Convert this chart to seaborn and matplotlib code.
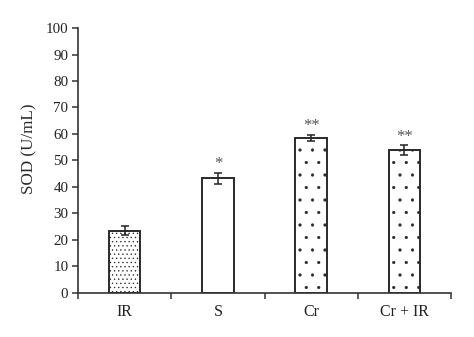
import matplotlib
matplotlib.use("Agg")
import matplotlib.pyplot as plt
import seaborn as sns
import pandas as pd

categories = ["IR", "S", "Cr", "Cr + IR"]
values = [23.4, 43.3, 58.5, 53.9]
errors = [1.7, 2.0, 1.2, 1.9]
stars = ["", "*", "**", "**"]
hatches = ["...", "", ".", "."]

DPI = 75
K = 100 / DPI  # scale so sizes look as at 100 dpi

sns.set_style("ticks")
plt.rcParams["font.family"] = ["Liberation Serif", "DejaVu Serif"]
plt.rcParams["hatch.linewidth"] = 0.6

df = pd.DataFrame({"group": categories, "sod": values})

fig = plt.figure(figsize=(474 / DPI, 337 / DPI), dpi=DPI)
ax = fig.add_axes([0.1646, 0.1306, 0.9515 - 0.1646, 0.9169 - 0.1306])

sns.barplot(data=df, x="group", y="sod", order=categories, color="white",
            edgecolor="#2a2a2a", linewidth=1.4 * K, width=0.34, errorbar=None, ax=ax)
for patch, h in zip(ax.patches, hatches):
    patch.set_hatch(h)
    patch.set_facecolor("white")

xs = list(range(len(categories)))
ax.errorbar(xs, values, yerr=errors, fmt="none", ecolor="#222222",
            elinewidth=1.1 * K, capsize=3 * K, capthick=1.1 * K, zorder=5)
for x, v, e, s in zip(xs, values, errors, stars):
    if s:
        ax.text(x, v + e + 0.2, s, ha="center", va="bottom", fontsize=12 * K,
                color="#555555")

ax.set_xlim(-0.5, 3.5)
ax.set_ylim(0, 100)
ax.set_yticks(range(0, 101, 10))
ax.set_xticks(xs)
ax.set_xticklabels(categories)
ax.set_xticks([-0.5, 0.5, 1.5, 2.5, 3.5], minor=True)
ax.tick_params(axis="x", which="major", length=0, pad=8 * K, labelsize=11.5 * K,
               labelcolor="#222222")
ax.tick_params(axis="x", which="minor", length=4 * K, width=1.1 * K, color="#333333")
ax.tick_params(axis="y", length=4 * K, width=1.1 * K, color="#333333",
               labelsize=10.8 * K, labelcolor="#222222", pad=3 * K)
ax.set_xlabel("")
ax.set_ylabel("SOD (U/mL)", fontsize=12.3 * K, color="#2a2a2a")
ax.yaxis.set_label_coords(-0.11, 0.543)
sns.despine(ax=ax)
for sp in ["left", "bottom"]:
    ax.spines[sp].set_linewidth(1.2 * K)
    ax.spines[sp].set_color("#333333")

fig.savefig("out.png", dpi=DPI)
